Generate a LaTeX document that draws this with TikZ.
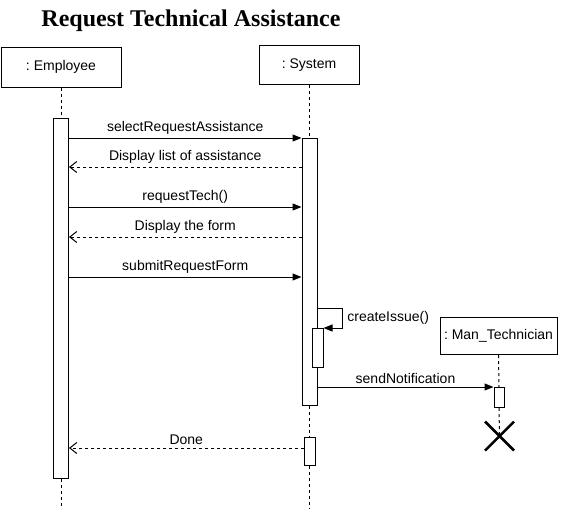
\documentclass[tikz,border=0pt]{standalone}
\usepackage{fontspec}
\setmainfont{Liberation Sans}
\newfontfamily\titlefont{Liberation Serif}
\usetikzlibrary{arrows.meta}
\frenchspacing

\tikzset{
	obj/.style={draw, inner sep=0pt, font=\fontsize{14}{16}\selectfont},
	act/.style={draw, fill=white, inner sep=0pt, anchor=north},
	life/.style={dash pattern=on 3pt off 3pt},
	call/.style={-{Triangle[length=9pt,width=7pt]}},
	reply/.style={dash pattern=on 3pt off 3pt, -{Straight Barb[length=7pt,width=11pt]}},
	lbl/.style={font=\fontsize{14}{16}\selectfont, above=0pt},
}

\begin{document}
\begin{tikzpicture}[x=1pt,y=-1pt,line width=1pt]
			\useasboundingbox (0,0) rectangle (561,509);
			\node[anchor=base, font=\titlefont\bfseries\fontsize{24}{28}\selectfont] (ttl) at (191,26) {Request Technical Assistance};
			% doi tuong
			\node[obj, minimum width=120pt, minimum height=40pt] (emp) at (61,67) {: Employee};
			\node[obj, minimum width=100pt, minimum height=39pt] (sys) at (309,65) {: System};
			\node[obj, minimum width=117pt, minimum height=37pt] (tech) at (498.5,336) {: Man\_Technician};
			% thanh kich hoat
			\node[act, minimum width=15pt, minimum height=360pt] (eAct) at (61,118) {};
			\node[act, minimum width=15pt, minimum height=267pt] (sAct) at (309.5,138) {};
			\node[act, minimum width=11pt, minimum height=39pt] (cAct) at (317.5,328) {};
			\node[act, minimum width=11pt, minimum height=28pt] (dAct) at (309.5,437) {};
			\node[act, minimum width=10pt, minimum height=20pt] (nAct) at (499,387) {};
			\coordinate (bottom) at (0,509);
			\coordinate (destroy) at (499.5,436);
			\coordinate (m2) at (0,167);
			\coordinate (m3) at (0,207);
			\coordinate (m4) at (0,237);
			\coordinate (m5) at (0,277);
			\coordinate (m6) at (0,308);
			\coordinate (m8) at (0,448);
			% duong doi
			\draw[life] (emp.south) -- (eAct.north) (eAct.south) -- (eAct.south |- bottom);
			\draw[life] (sys.south) -- (sys.south |- sAct.north) (sAct.south) -- (dAct.north)
			(dAct.south) -- (dAct.south |- bottom);
			\draw[life] (tech.south) -- (nAct.north) (nAct.south) -- (destroy);
			% thong diep
			\draw[call] (eAct.east |- sAct.north) -- node[lbl]{selectRequestAssistance} (sAct.north west);
			\draw[reply] (sAct.west |- m2) -- node[lbl]{Display list of assistance} (eAct.east |- m2);
			\draw[call] (eAct.east |- m3) -- node[lbl]{requestTech()} (sAct.west |- m3);
			\draw[reply] (sAct.west |- m4) -- node[lbl]{Display the form} (eAct.east |- m4);
			\draw[call] (eAct.east |- m5) -- node[lbl]{submitRequestForm} (sAct.west |- m5);
			\draw[call] (sAct.east |- m6) -- ++(25,0) |- node[pos=0.25, right=1pt, font=\fontsize{14}{16}\selectfont]{createIssue()} (cAct.north east);
			\draw[call] (sAct.east |- nAct.north) -- node[lbl]{sendNotification} (nAct.north west);
			\draw[reply] (dAct.west |- m8) -- node[lbl]{Done} (eAct.east |- m8);
			\draw[line width=2.5pt] (destroy) +(-14.5,-14.5) -- +(14.5,14.5) +(-14.5,14.5) -- +(14.5,-14.5);
	\end{tikzpicture}
\end{document}
